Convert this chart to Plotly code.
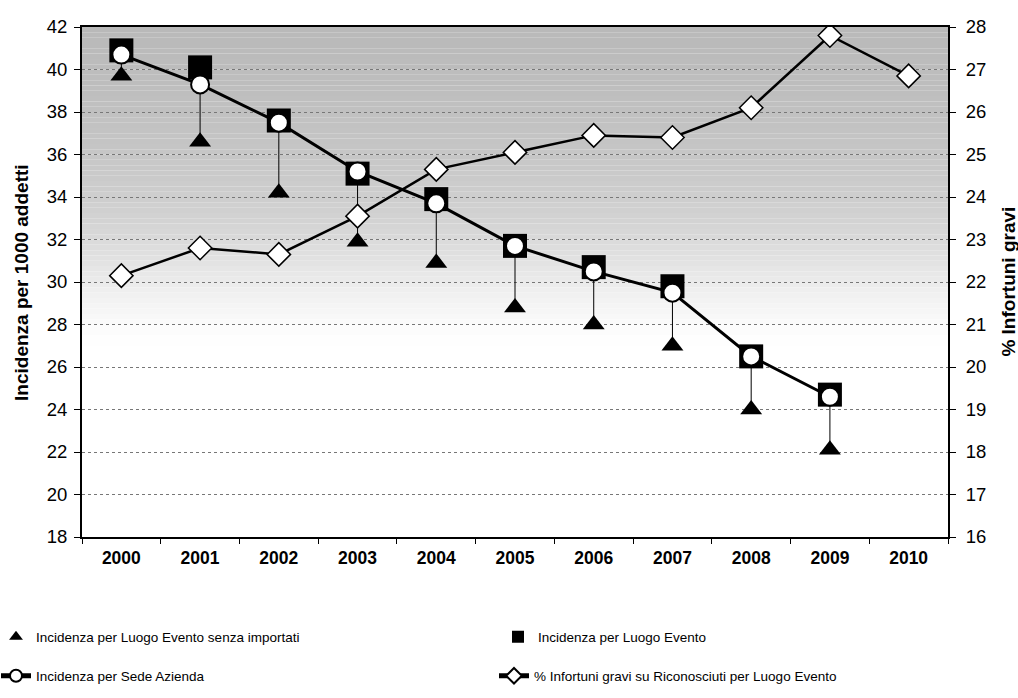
import plotly.graph_objects as go

# --- data -------------------------------------------------------------
years = ["2000", "2001", "2002", "2003", "2004", "2005",
         "2006", "2007", "2008", "2009", "2010"]

# incidence per 1000 workers (left axis)
luogo_senza_importati = [39.7, 36.6, 34.2, 31.9, 30.9, 28.8, 28.0, 27.0, 24.0, 22.1, None]
luogo_evento = [40.9, 40.1, 37.6, 35.1, 33.9, 31.7, 30.7, 29.8, 26.5, 24.7, None]
sede_azienda = [40.7, 39.3, 37.5, 35.2, 33.7, 31.7, 30.5, 29.5, 26.5, 24.6, None]

# % serious accidents (right axis)
perc_gravi = [22.15, 22.8, 22.65, 23.55, 24.65, 25.05, 25.45, 25.4, 26.1, 27.8, 26.85]

left_ticks = list(range(18, 43, 2))
right_ticks = list(range(16, 29, 1))

FONT = "Arial, Liberation Sans, sans-serif"

fig = go.Figure()

# vertical drop lines joining the highest incidence to the lowest one
drop_x, drop_y = [], []
for yr, a, b, c in zip(years, luogo_evento, sede_azienda, luogo_senza_importati):
    if a is None or c is None:
        continue
    drop_x += [yr, yr, None]
    drop_y += [max(a, b), c, None]
fig.add_trace(go.Scatter(
    x=drop_x, y=drop_y, mode="lines", line=dict(color="black", width=1),
    showlegend=False, hoverinfo="skip"))

fig.add_trace(go.Scatter(
    x=years, y=luogo_senza_importati, mode="markers",
    name="Incidenza per Luogo Evento senza importati",
    marker=dict(symbol="triangle-up", size=19, color="black"),
    legend="legend"))

fig.add_trace(go.Scatter(
    x=years, y=luogo_evento, mode="markers",
    name="Incidenza per Luogo Evento",
    marker=dict(symbol="square", size=24, color="black"),
    legend="legend2"))

fig.add_trace(go.Scatter(
    x=years, y=sede_azienda, mode="lines+markers",
    name="Incidenza per Sede Azienda",
    line=dict(color="black", width=3),
    marker=dict(symbol="circle", size=18, color="white",
                line=dict(color="black", width=2)),
    legend="legend3"))

fig.add_trace(go.Scatter(
    x=years, y=perc_gravi, mode="lines+markers", yaxis="y2",
    name="% Infortuni gravi su Riconosciuti per Luogo Evento",
    line=dict(color="black", width=2.5),
    marker=dict(symbol="diamond", size=18, color="white",
                line=dict(color="black", width=1.5)),
    legend="legend4"))

# shaded plot background, darker at the top and fading to white
stops = [(42, 185), (39, 190), (36, 198), (33, 210), (31, 226), (29.5, 240), (28, 251), (27, 255)]
bands = 60
shapes = []
y_top, y_bot = 42.0, 27.0
for i in range(bands):
    y0 = y_top - (y_top - y_bot) * i / bands
    y1 = y_top - (y_top - y_bot) * (i + 1) / bands
    ym = (y0 + y1) / 2
    g = 255
    for (ya, ga), (yb, gb) in zip(stops[:-1], stops[1:]):
        if ya >= ym >= yb:
            g = ga + (gb - ga) * (ya - ym) / (ya - yb)
            break
    g = int(round(g))
    shapes.append(dict(
        type="rect", xref="x domain", yref="y", x0=0, x1=1, y0=y1, y1=y0,
        fillcolor=f"rgb({g},{g},{g})", line=dict(width=0), layer="below"))


def legend_box(px_left, px_mid_y):
    # place a single-entry legend by pixel position inside the page
    plot_l, plot_w, plot_b, plot_h = 82, 866, 537, 510
    return dict(
        orientation="h", x=(px_left - plot_l) / plot_w, xanchor="left",
        y=(plot_b - px_mid_y) / plot_h, yanchor="middle",
        font=dict(size=13.5, family=FONT), bgcolor="rgba(0,0,0,0)",
        itemsizing="constant",
    )


fig.update_layout(
    width=1018, height=698,
    margin=dict(l=82, r=70, t=27, b=161, autoexpand=False),
    paper_bgcolor="white", plot_bgcolor="white",
    font=dict(family=FONT, color="black"),
    shapes=shapes,
    showlegend=True,
    xaxis=dict(
        type="category", categoryorder="array", categoryarray=years,
        range=[-0.5, 10.5], showgrid=False, zeroline=False,
        showline=True, linecolor="black", linewidth=2, mirror=True,
        ticks="outside", tickson="boundaries", ticklen=5, tickcolor="black",
        tickfont=dict(size=17.5, family=FONT, weight="bold"),
        ticklabelstandoff=4,
    ),
    yaxis=dict(
        range=[18, 42], tickvals=left_ticks, showgrid=True,
        gridcolor="#777777", griddash="dot", gridwidth=1,
        zeroline=False, showline=True, linecolor="black", linewidth=2,
        ticks="outside", ticklen=6, tickcolor="black",
        tickfont=dict(size=18.5), ticklabelstandoff=3,
    ),
    yaxis2=dict(
        range=[16, 28], tickvals=right_ticks, overlaying="y", side="right",
        showgrid=False, zeroline=False, showline=True, linecolor="black",
        linewidth=2, ticks="outside", ticklen=6, tickcolor="black",
        tickfont=dict(size=18.5), ticklabelstandoff=6,
    ),
    legend=legend_box(-4, 637),
    legend2=legend_box(498, 637),
    legend3=legend_box(-4, 676),
    legend4=legend_box(494, 676),
    annotations=[
        dict(text="<b>Incidenza per 1000 addetti</b>", xref="paper", yref="paper",
             x=-0.0705, y=0.5, xanchor="center", yanchor="middle", textangle=-90,
             showarrow=False, font=dict(size=19, family=FONT)),
        dict(text="<b>% Infortuni gravi</b>", xref="paper", yref="paper",
             x=1.0688, y=0.5, xanchor="center", yanchor="middle", textangle=-90,
             showarrow=False, font=dict(size=19, family=FONT)),
    ],
)

fig.write_html("out.html")
